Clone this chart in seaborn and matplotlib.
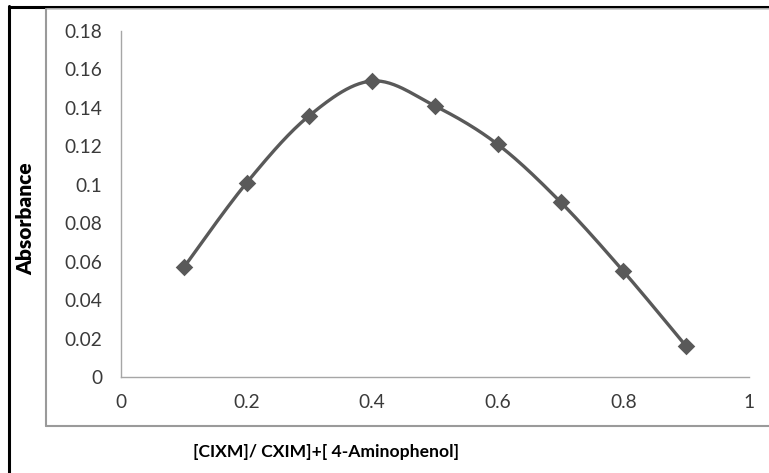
import numpy as np
import seaborn as sns
import matplotlib.pyplot as plt
from matplotlib.lines import Line2D

# mole fraction vs absorbance (Job's method)
fraccao = [0.1, 0.2, 0.3, 0.4, 0.5, 0.6, 0.7, 0.8, 0.9]
absorbancia = [0.057, 0.101, 0.136, 0.154, 0.141, 0.121, 0.091, 0.055, 0.016]
y_ticks = [0, 0.02, 0.04, 0.06, 0.08, 0.1, 0.12, 0.14, 0.16, 0.18]
y_labels = ["0", "0.02", "0.04", "0.06", "0.08", "0.1", "0.12", "0.14", "0.16", "0.18"]
x_ticks = [0, 0.2, 0.4, 0.6, 0.8, 1]
x_labels = ["0", "0.2", "0.4", "0.6", "0.8", "1"]


def curva_suave(x, y, n=30):
    # Excel-like smoothed line: Catmull-Rom bezier segments
    p = np.column_stack([x, y]).astype(float)
    p = np.vstack([p[0], p, p[-1]])
    t = np.linspace(0, 1, n)[:, None]
    pedacos = []
    for i in range(1, len(p) - 2):
        p0, p1, p2, p3 = p[i - 1], p[i], p[i + 1], p[i + 2]
        c1 = p1 + (p2 - p0) / 6
        c2 = p2 - (p3 - p1) / 6
        seg = ((1 - t) ** 3) * p1 + 3 * ((1 - t) ** 2) * t * c1 + 3 * (1 - t) * t ** 2 * c2 + t ** 3 * p2
        pedacos.append(seg)
    seg = np.vstack(pedacos)
    return seg[:, 0], seg[:, 1]


sns.set_style("white")
plt.rcParams['font.family'] = ['Lato', 'DejaVu Sans']

fig = plt.figure(figsize=(7.69, 4.73), dpi=100)
ax = fig.add_axes([121 / 769, 1 - 377 / 473, (749 - 121) / 769, (377 - 31) / 473])

cor = '#595959'
xs, ys = curva_suave(fraccao, absorbancia)
ax.plot(xs, ys, color=cor, linewidth=2.4, solid_capstyle='round', zorder=2)
sns.scatterplot(x=fraccao, y=absorbancia, marker='D', s=80, color=cor,
                edgecolor=cor, linewidth=0, ax=ax, zorder=3)

ax.set_xlim(0, 1)
ax.set_ylim(0, 0.18)
ax.set_xticks(x_ticks)
ax.set_xticklabels(x_labels)
ax.set_yticks(y_ticks)
ax.set_yticklabels(y_labels)
ax.tick_params(axis='both', direction='out', length=4.3, width=1, color='#a6a6a6',
               labelsize=13.8, labelcolor='#3a3a3a')
ax.tick_params(axis='y', pad=9)
ax.tick_params(axis='x', pad=8)
for lado in ['top', 'right']:
    ax.spines[lado].set_visible(False)
for lado in ['left', 'bottom']:
    ax.spines[lado].set_color('#a6a6a6')
    ax.spines[lado].set_linewidth(1)

fig.text(25.5 / 769, 1 - 219 / 473, 'Absorbance', rotation=90, fontsize=15,
         fontweight='heavy', ha='center', va='center', color='black')
fig.text(326 / 769, 1 - 452 / 473, '[CIXM]/ CXIM]+[ 4-Aminophenol]', fontsize=12.6,
         fontweight='bold', ha='center', va='center', color='black')

# moldura: borda preta exterior e caixa cinza interior
fig.add_artist(Line2D([8.5 / 769, 8.5 / 769], [0, 1 - 6 / 473], color='black', linewidth=2.2))
fig.add_artist(Line2D([8.5 / 769, 1], [1 - 7 / 473, 1 - 7 / 473], color='black', linewidth=2.2))
fig.add_artist(Line2D([46 / 769, 1], [1 - 9.5 / 473, 1 - 9.5 / 473], color='#c8c8c8', linewidth=1.2))
fig.add_artist(Line2D([46 / 769, 46 / 769], [1 - 426 / 473, 1 - 9 / 473], color='#9a9a9a', linewidth=1.5))
fig.add_artist(Line2D([46 / 769, 1], [1 - 426 / 473, 1 - 426 / 473], color='#9a9a9a', linewidth=1.5))

fig.savefig('out.png', dpi=100)
plt.close(fig)
